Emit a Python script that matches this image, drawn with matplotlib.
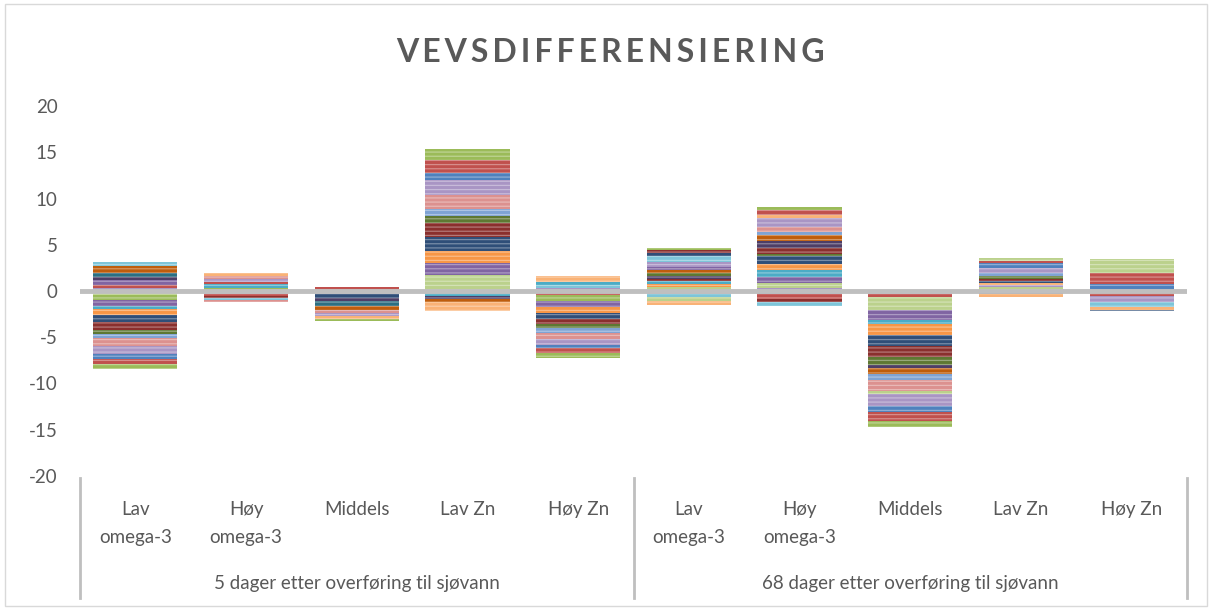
import matplotlib
matplotlib.use("Agg")
from matplotlib import pyplot as plt
from matplotlib.patches import Rectangle

plt.rcParams["font.family"] = ["Lato", "DejaVu Sans"]
plt.rcParams["hatch.linewidth"] = 0.9
plt.rcParams["axes.unicode_minus"] = False

categories = ["Lav\nomega-3", "Høy\nomega-3", "Middels", "Lav Zn", "Høy Zn"] * 2
groups = ["5 dager etter overføring til sjøvann", "68 dager etter overføring til sjøvann"]
yticks = [20, 15, 10, 5, 0, -5, -10, -15, -20]

# office 2010 theme colours and their dark / light shades
palette = {
    "blue": "#4F81BD", "red": "#C0504D", "green": "#9BBB59",
    "purple": "#8064A2", "aqua": "#4BACC6", "orange": "#F79646",
    "dblue": "#2F4E78", "dred": "#8A2F2D", "dgreen": "#5E7832",
    "dpurple": "#4E3E66", "daqua": "#2C6F82", "dorange": "#BF5D0C",
    "lblue": "#7FA3D4", "lred": "#DC918F", "lgreen": "#BBD18C",
    "lpurple": "#A995C4", "laqua": "#7DC5D9", "lorange": "#F9B276",
}

# stacked segments per bar, listed from zero outwards (value, colour)
pos_5d = [
    [("lpurple", 0.3), ("red", 0.4), ("purple", 0.5), ("dpurple", 0.3), ("daqua", 0.5),
     ("dorange", 0.7), ("laqua", 0.4)],
    [("lblue", 0.1), ("green", 0.2), ("aqua", 0.5), ("red", 0.2), ("lpurple", 0.3),
     ("lred", 0.3), ("lorange", 0.3)],
    [("red", 0.4)],
    [("lgreen", 1.75), ("purple", 1.3), ("orange", 1.3), ("dblue", 1.5), ("dred", 1.45),
     ("dgreen", 0.8), ("lblue", 0.8), ("lred", 1.45), ("lpurple", 1.6), ("blue", 0.8),
     ("red", 1.45), ("green", 1.1)],
    [("lpurple", 0.3), ("laqua", 0.3), ("aqua", 0.35), ("lorange", 0.7)],
]
neg_5d = [
    [("lgreen", 0.4), ("green", 0.6), ("purple", 0.6), ("aqua", 0.3), ("orange", 0.7),
     ("dblue", 0.8), ("dred", 0.8), ("dgreen", 0.5), ("lblue", 0.4), ("lred", 0.8),
     ("lpurple", 0.9), ("blue", 0.5), ("red", 0.6), ("green", 0.5)],
    [("lpurple", 0.3), ("red", 0.25), ("dred", 0.2), ("laqua", 0.25), ("lred", 0.2)],
    [("lpurple", 0.3), ("dblue", 0.5), ("dpurple", 0.3), ("daqua", 0.5), ("dorange", 0.5),
     ("lred", 0.3), ("lpurple", 0.3), ("lorange", 0.3), ("green", 0.2)],
    [("aqua", 0.5), ("dpurple", 0.35), ("dorange", 0.35), ("lorange", 1.0)],
    [("red", 0.4), ("green", 0.7), ("purple", 0.6), ("orange", 0.65), ("dblue", 0.65),
     ("dred", 0.6), ("dgreen", 0.35), ("lblue", 0.6), ("lred", 0.65), ("lpurple", 0.65),
     ("blue", 0.3), ("red", 0.55), ("green", 0.5)],
]
pos_68d = [
    [("lpurple", 0.1), ("lgreen", 0.35), ("orange", 0.35), ("aqua", 0.3), ("dred", 0.25),
     ("dpurple", 0.25), ("dgreen", 0.3), ("dorange", 0.35), ("purple", 0.35),
     ("lpurple", 0.55), ("laqua", 0.6), ("dblue", 0.35), ("dred", 0.3), ("green", 0.2)],
    [("lpurple", 0.3), ("lgreen", 0.6), ("purple", 0.65), ("aqua", 0.7), ("orange", 0.7),
     ("dblue", 0.8), ("dgreen", 0.3), ("dred", 0.55), ("dpurple", 0.85), ("dorange", 0.6),
     ("lblue", 0.35), ("lred", 0.55), ("lpurple", 0.9), ("lorange", 0.35), ("red", 0.6),
     ("green", 0.3)],
    [],
    [("lpurple", 0.1), ("lgreen", 0.3), ("lpurple", 0.25), ("lorange", 0.2), ("dblue", 0.2),
     ("dred", 0.25), ("dgreen", 0.35), ("lblue", 0.35), ("lpurple", 0.45), ("blue", 0.55),
     ("red", 0.25), ("lgreen", 0.3)],
    [("lblue", 0.15), ("blue", 0.65), ("red", 1.1), ("lgreen", 1.55)],
]
neg_68d = [
    [("lpurple", 0.3), ("laqua", 0.3), ("lgreen", 0.5), ("lorange", 0.45)],
    [("blue", 0.35), ("red", 0.5), ("dred", 0.3), ("laqua", 0.45)],
    [("lpurple", 0.35), ("red", 0.25), ("lgreen", 1.45), ("purple", 1.1), ("aqua", 0.45),
     ("orange", 1.2), ("dblue", 1.1), ("dred", 1.25), ("dgreen", 0.8), ("dpurple", 0.4),
     ("dorange", 0.6), ("lblue", 0.7), ("lred", 1.2), ("lgreen", 0.25), ("lpurple", 1.35),
     ("blue", 0.6), ("red", 1.0), ("green", 0.7)],
    [("dblue", 0.3), ("lorange", 0.3)],
    [("lgreen", 0.25), ("red", 0.3), ("lpurple", 0.6), ("laqua", 0.55), ("lorange", 0.3),
     ("dblue", 0.2)],
]


def lighten(hex_color, amount=0.35):
    r, g, b = matplotlib.colors.to_rgb(hex_color)
    return (r + (1 - r) * amount, g + (1 - g) * amount, b + (1 - b) * amount)


def stack(ax, x, segments, sign):
    base = 0.0
    for name, value in segments:
        col = palette[name]
        ax.bar(x, sign * value, bottom=base, width=0.76, color=col,
               edgecolor=lighten(col), linewidth=0, hatch="----", zorder=2)
        base += sign * value


fig = plt.figure(figsize=(12.12, 6.1), dpi=100)
ax = fig.add_axes([80 / 1212, 1 - 476 / 610, 1107 / 1212, 370 / 610])

pos_all = pos_5d + pos_68d
neg_all = neg_5d + neg_68d
for i in range(len(categories)):
    stack(ax, i, pos_all[i], 1)
    stack(ax, i, neg_all[i], -1)

ax.axhline(0, color="#BFBFBF", lw=3.5, zorder=3)

ax.set_xlim(-0.5, len(categories) - 0.5)
ax.set_ylim(-20, 20)
ax.set_yticks(yticks)
ax.tick_params(axis="y", length=0, pad=16, labelsize=13.5, labelcolor="#595959")
ax.set_xticks(range(len(categories)))
ax.set_xticklabels(categories, fontsize=13.5, color="#595959", linespacing=1.8)
ax.tick_params(axis="x", length=0, pad=18)
for s in ax.spines.values():
    s.set_visible(False)

# group labels and separators below the category axis
xt = ax.get_xaxis_transform()
for k, g in enumerate(groups):
    ax.text(k * 5 + 2, -0.29, g, transform=xt, ha="center", va="center",
            fontsize=13.5, color="#595959")
for xs in [-0.5, 4.5, 9.5]:
    ax.plot([xs, xs], [-0.005, -0.33], transform=xt, color="#BFBFBF", lw=2,
            clip_on=False)

title = "\u2009".join("VEVSDIFFERENSIERING")
fig.text(0.504, 1 - 52 / 610, title, ha="center", va="center", fontsize=23,
         fontweight="bold", color="#595959")

fig.patches.append(Rectangle((0.004, 0.006), 0.992, 0.988, transform=fig.transFigure,
                             fill=False, ec="#D9D9D9", lw=1))

plt.savefig("out.png", dpi=100)
